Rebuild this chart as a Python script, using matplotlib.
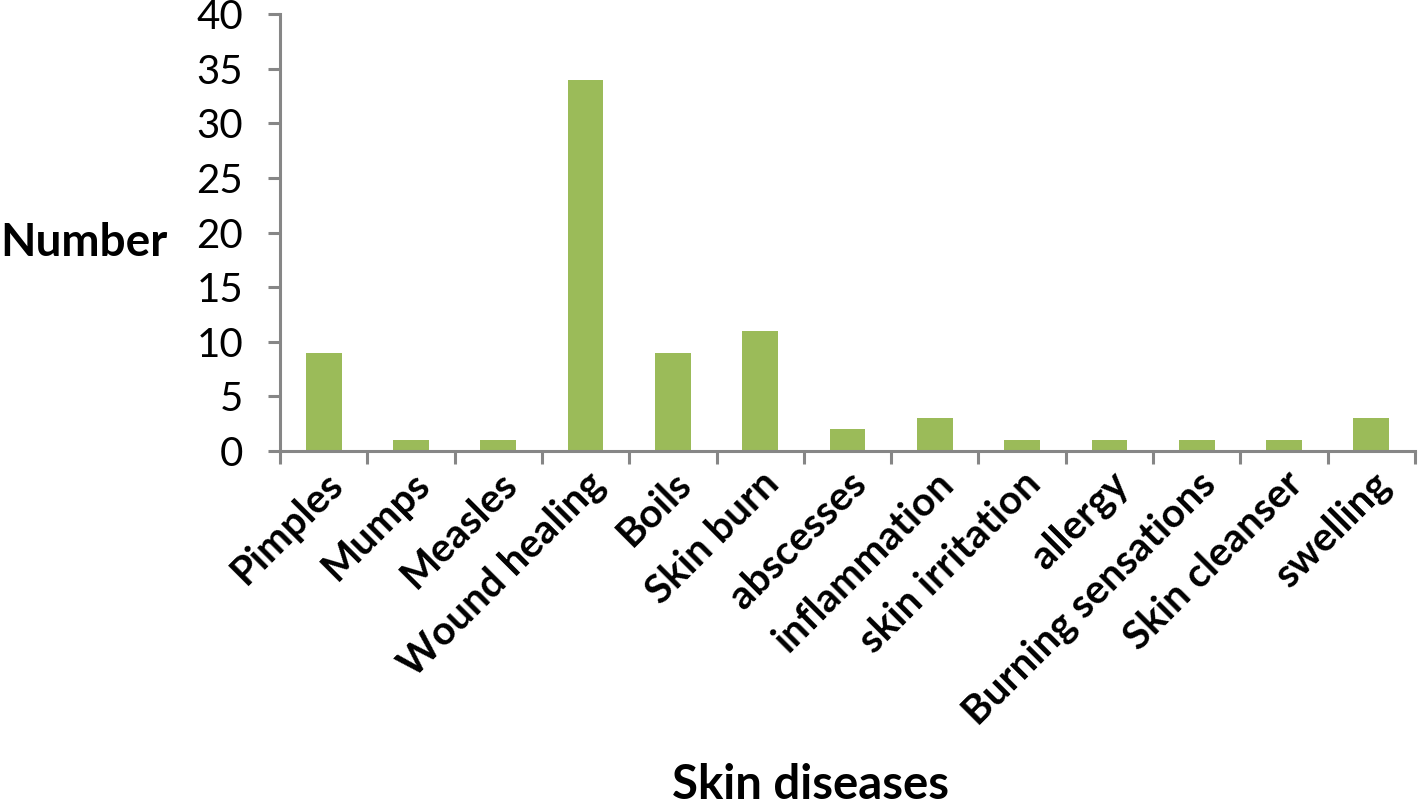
import matplotlib
matplotlib.use("Agg")
import matplotlib.pyplot as plt
import numpy as np

categories = ["Pimples", "Mumps", "Measles", "Wound healing", "Boils", "Skin burn",
              "abscesses", "inflammation", "skin irritation", "allergy",
              "Burning sensations", "Skin cleanser", "swelling"]
values = [9, 1, 1, 34, 9, 11, 2, 3, 1, 1, 1, 1, 3]
yticks = [0, 5, 10, 15, 20, 25, 30, 35, 40]

plt.rcParams['font.family'] = ['Lato', 'DejaVu Sans']

fig = plt.figure(figsize=(14.18, 8.10), dpi=100)
ax = fig.add_axes([280/1418, 1 - 451/810, (1415-280)/1418, (451-14)/810])

x = np.arange(len(categories))
ax.bar(x, values, width=0.41, color='#9BBB59', zorder=2)
ax.set_xlim(-0.5, len(categories) - 0.5)
ax.set_ylim(0, 40)
ax.set_yticks(yticks)
ax.set_yticklabels([str(v) for v in yticks], fontsize=29)

# category ticks at boundaries
ax.set_xticks(np.arange(len(categories) + 1) - 0.5)
ax.set_xticklabels([])
ax.set_xticks(x, minor=True)
ax.set_xticklabels(categories, minor=True, rotation=45, ha='right', va='top',
                   rotation_mode='anchor', fontsize=29, fontweight='bold')
ax.tick_params(axis='x', which='minor', length=0, pad=10)
ax.tick_params(axis='x', which='major', length=9, width=2.2, color='#868686')
ax.tick_params(axis='y', length=8.5, width=2.2, color='#868686', pad=18)

for s in ['top', 'right']:
    ax.spines[s].set_visible(False)
for s in ['left', 'bottom']:
    ax.spines[s].set_color('#868686')
    ax.spines[s].set_linewidth(2.2)

fig.text(0.0, 1 - 243/810, "Number", fontsize=33, fontweight='bold', ha='left', va='center')
fig.text(810/1418, 3/810, "Skin diseases", fontsize=34, fontweight='bold', ha='center', va='bottom')

fig.savefig("out.png", dpi=100)
